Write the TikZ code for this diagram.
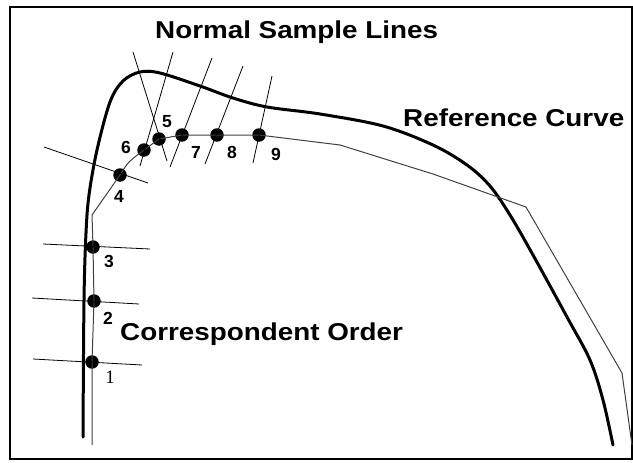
\documentclass[tikz,border=0pt]{standalone}
\usepackage{fontspec}
\newfontfamily\lblfont[FakeStretch=1.14]{Liberation Sans}
\newfontfamily\numfont{Liberation Sans}
\newfontfamily\serfont{Liberation Serif}

\tikzset{
  dot/.style={circle, fill=black, inner sep=0pt, minimum size=13.5pt},
  normalline/.style={line width=0.8pt},
  title/.style={font=\lblfont\bfseries\fontsize{24.4}{26}\selectfont, anchor=base west, inner sep=0pt},
  numlabel/.style={font=\numfont\bfseries\fontsize{17.5}{19}\selectfont, inner sep=0pt}
}

\begin{document}
\begin{tikzpicture}[x=1pt,y=-1pt]

\useasboundingbox (0,0) rectangle (633,463);

% Frame
\draw[line width=2pt] (10,7) rectangle (632,459);

% Reference curve
\draw[line width=3pt, line cap=round] plot[smooth, tension=0.55] coordinates {
    (83,437) (84,300) (86,233) (89,195) (97,150) (110,102) (123,81)
    (140,72) (160,73) (200,86) (233,98) (267,107) (320,114) (383,126)
    (433,145) (467,165) (490,186) (510,215) (533,255) (567,317)
    (590,360) (603,400) (613,445)};

% Sample points
\foreach \n/\x/\y in {1/92/362, 2/94/301, 3/93/247, 4/120/175, 6/144/150,
                      5/159/139, 7/182/135, 8/217/135, 9/259/135}
    \node[dot] (p\n) at (\x,\y) {};

% Correspondent curve
\draw[line width=1pt, black!75] (92,445) -- (p1.center) -- (p2.center)
    -- (p3.center) -- (92,215) -- (p4.center)
    .. controls (128,162) .. (p6.center) -- (p5.center) -- (p7.center)
    -- (p8.center) -- (p9.center) -- (340,145) -- (433,174) -- (526,207)
    -- (622,373) -- (632,445);

% Normal sample lines
\coordinate (n1a) at (33,359);  \coordinate (n1b) at (142,365);
\coordinate (n2a) at (32,298);  \coordinate (n2b) at (139,304);
\coordinate (n3a) at (43,244);  \coordinate (n3b) at (150,249);
\coordinate (n4a) at (44,147);  \coordinate (n4b) at (148,183);
\coordinate (n5a) at (133,52);  \coordinate (n5b) at (167,161);
\coordinate (n6a) at (140,166); \coordinate (n6b) at (173,52);
\coordinate (n7a) at (170,167); \coordinate (n7b) at (212,58);
\coordinate (n8a) at (205,164); \coordinate (n8b) at (243,66);
\coordinate (n9a) at (253,163); \coordinate (n9b) at (272,76);
\foreach \n in {1,...,9}
    \draw[normalline] (n\n a) -- (n\n b);

% Point labels
\node[numlabel] (l2) at (108,318) {2};
\node[numlabel] (l3) at (109,261) {3};
\node[numlabel] (l4) at (119,196) {4};
\node[numlabel] (l5) at (167,122) {5};
\node[numlabel] (l6) at (126,147) {6};
\node[numlabel] (l7) at (196,152) {7};
\node[numlabel] (l8) at (232,152) {8};
\node[numlabel] (l9) at (276,154) {9};
\node[font=\serfont\fontsize{19}{20}\selectfont, inner sep=0pt] (l1) at (110,377) {1};

% Titles
\node[title] (normals) at (155,38) {Normal Sample Lines};
\node[title] (refcurve) at (403,126) {Reference Curve};
\node[title] (order) at (120,340) {Correspondent Order};

\end{tikzpicture}
\end{document}
